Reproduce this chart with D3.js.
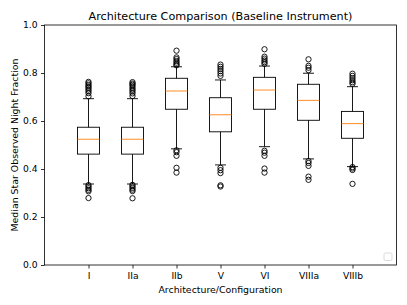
<!DOCTYPE html>
<html>
<head>
<meta charset="utf-8">
<script src="https://cdn.jsdelivr.net/npm/d3@7"></script>
<style>
  body { margin: 0; background: #fff; }
  text { font-family: "DejaVu Sans", sans-serif; fill: #000; }
</style>
</head>
<body>
<script>
// data
var categories = ["I", "IIa", "IIb", "V", "VI", "VIIIa", "VIIIb"];
var q1 = [0.462, 0.462, 0.649, 0.555, 0.649, 0.603, 0.528];
var medians = [0.524, 0.524, 0.725, 0.626, 0.729, 0.686, 0.589];
var q3 = [0.574, 0.574, 0.778, 0.697, 0.782, 0.753, 0.640];
var whiskerLow = [0.3375, 0.3375, 0.484, 0.417, 0.493, 0.442, 0.410];
var whiskerHigh = [0.693, 0.693, 0.826, 0.771, 0.829, 0.799, 0.743];
var outliers = [
    [0.703, 0.716, 0.724, 0.731, 0.738, 0.744, 0.750, 0.757, 0.763, 0.333, 0.327, 0.320, 0.313, 0.307, 0.279],
    [0.704, 0.715, 0.723, 0.730, 0.737, 0.745, 0.751, 0.756, 0.762, 0.334, 0.328, 0.321, 0.314, 0.308, 0.278],
    [0.893, 0.865, 0.858, 0.850, 0.843, 0.836, 0.832, 0.478, 0.470, 0.455, 0.405, 0.385],
    [0.835, 0.826, 0.817, 0.808, 0.798, 0.788, 0.405, 0.395, 0.383, 0.332, 0.327],
    [0.899, 0.868, 0.860, 0.852, 0.845, 0.838, 0.476, 0.468, 0.455, 0.402, 0.385],
    [0.857, 0.830, 0.822, 0.812, 0.433, 0.425, 0.413, 0.368, 0.355],
    [0.797, 0.788, 0.779, 0.770, 0.762, 0.755, 0.408, 0.402, 0.396, 0.338]
];
var yTicks = [0.0, 0.2, 0.4, 0.6, 0.8, 1.0];

var W = 407, H = 305;
var margin = {left: 44.5, top: 25, right: 10.5, bottom: 40};
var pw = W - margin.left - margin.right;
var ph = H - margin.top - margin.bottom;

var svg = d3.select("body").append("svg")
    .attr("width", W)
    .attr("height", H);

var g = svg.append("g")
    .attr("transform", "translate(" + margin.left + "," + margin.top + ")");

var x = d3.scaleLinear().domain([0, categories.length + 1]).range([0, pw]);
var y = d3.scaleLinear().domain([0, 1]).range([ph, 0]);

var boxW = x(0.5) - x(0);
var capW = boxW / 2;

//axes
var xAxis = d3.axisBottom(x)
    .tickValues(d3.range(1, categories.length + 1))
    .tickFormat(function(d) { return categories[d - 1]; })
    .tickSize(3.5).tickPadding(3.5);
var yAxis = d3.axisLeft(y)
    .tickValues(yTicks)
    .tickFormat(d3.format(".1f"))
    .tickSize(3.5).tickPadding(3.5);

var gx = g.append("g").attr("transform", "translate(0," + ph + ")").call(xAxis);
var gy = g.append("g").call(yAxis);
[gx, gy].forEach(function(a) {
    a.select(".domain").remove();
    a.selectAll(".tick line").attr("stroke", "#000").attr("stroke-width", 0.8);
    a.selectAll(".tick text").attr("font-size", "9.2px").attr("font-family", "DejaVu Sans");
});

//boxes
var idx = d3.range(categories.length);
var boxes = g.selectAll(".box").data(idx).enter().append("g").attr("class", "box");

boxes.append("line")
    .attr("x1", function(i) { return x(i + 1); })
    .attr("x2", function(i) { return x(i + 1); })
    .attr("y1", function(i) { return y(q3[i]); })
    .attr("y2", function(i) { return y(whiskerHigh[i]); })
    .attr("stroke", "#000").attr("stroke-width", 0.9);
boxes.append("line")
    .attr("x1", function(i) { return x(i + 1); })
    .attr("x2", function(i) { return x(i + 1); })
    .attr("y1", function(i) { return y(q1[i]); })
    .attr("y2", function(i) { return y(whiskerLow[i]); })
    .attr("stroke", "#000").attr("stroke-width", 0.9);
[whiskerHigh, whiskerLow].forEach(function(arr) {
    boxes.append("line")
        .attr("x1", function(i) { return x(i + 1) - capW / 2; })
        .attr("x2", function(i) { return x(i + 1) + capW / 2; })
        .attr("y1", function(i) { return y(arr[i]); })
        .attr("y2", function(i) { return y(arr[i]); })
        .attr("stroke", "#000").attr("stroke-width", 0.9);
});
boxes.append("rect")
    .attr("x", function(i) { return x(i + 1) - boxW / 2; })
    .attr("y", function(i) { return y(q3[i]); })
    .attr("width", boxW)
    .attr("height", function(i) { return y(q1[i]) - y(q3[i]); })
    .attr("fill", "none").attr("stroke", "#000").attr("stroke-width", 0.9);
boxes.append("line")
    .attr("x1", function(i) { return x(i + 1) - boxW / 2; })
    .attr("x2", function(i) { return x(i + 1) + boxW / 2; })
    .attr("y1", function(i) { return y(medians[i]); })
    .attr("y2", function(i) { return y(medians[i]); })
    .attr("stroke", "#ff7f0e").attr("stroke-width", 0.9);

//fliers
boxes.each(function(i) {
    d3.select(this).selectAll("circle").data(outliers[i]).enter().append("circle")
        .attr("cx", x(i + 1))
        .attr("cy", function(d) { return y(d); })
        .attr("r", 2.65)
        .attr("fill", "none").attr("stroke", "#000").attr("stroke-width", 0.9);
});

//frame
g.append("rect")
    .attr("width", pw).attr("height", ph)
    .attr("fill", "none").attr("stroke", "#000").attr("stroke-width", 0.8);

//empty legend
g.append("rect")
    .attr("x", pw - 12.5).attr("y", ph - 12)
    .attr("width", 8).attr("height", 7.5)
    .attr("rx", 1.5)
    .attr("fill", "#fff").attr("stroke", "#d0d0d0").attr("stroke-width", 0.8);

//titles
svg.append("text")
    .attr("x", margin.left + pw / 2).attr("y", 20)
    .attr("text-anchor", "middle")
    .attr("font-size", "11.2px")
    .text("Architecture Comparison (Baseline Instrument)");
svg.append("text")
    .attr("x", margin.left + pw / 2).attr("y", 292.5)
    .attr("text-anchor", "middle")
    .attr("font-size", "9.4px")
    .text("Architecture/Configuration");
svg.append("text")
    .attr("transform", "translate(17.5," + (margin.top + ph / 2) + ") rotate(-90)")
    .attr("text-anchor", "middle")
    .attr("font-size", "9.4px")
    .text("Median Star Observed Night Fraction");
</script>
</body>
</html>
